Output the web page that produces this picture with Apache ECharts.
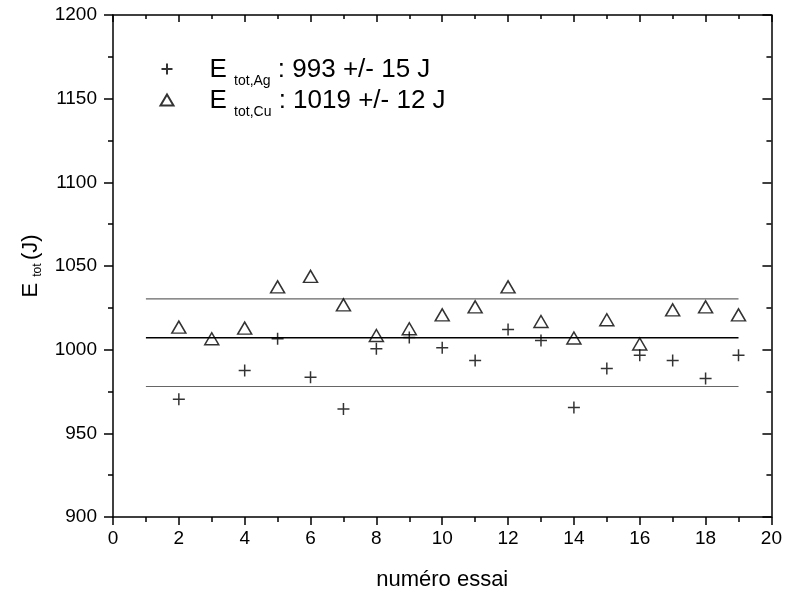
<!DOCTYPE html>
<html>
<head>
<meta charset="utf-8">
<script src="https://cdn.jsdelivr.net/npm/echarts@6/dist/echarts.min.js"></script>
<style>html,body{margin:0;padding:0;background:#fff;}#c{width:785px;height:596px;}</style>
</head>
<body>
<div id="c"></div>
<script>
// ---- data ----
const trialsAg = [2,4,5,6,7,8,9,10,11,12,13,14,15,16,17,18,19];
const energyAg = [970.4,987.5,1006.5,983.5,964.5,1000.6,1007.3,1001.2,993.6,1012.1,1005.5,965.5,988.7,996.6,993.6,982.7,996.6];
const trialsCu = [2,3,4,5,6,7,8,9,10,11,12,13,14,15,16,17,18,19];
const energyCu = [1013.5,1006.5,1012.9,1037.5,1043.8,1026.8,1008.5,1012.5,1020.8,1025.6,1037.5,1016.8,1007,1017.9,1003.4,1023.8,1025.6,1020.8];
const refLineX = [1, 19];
const refUpper = 1030.4;
const refMean = 1007.1;
const refLower = 978.0;
const xTicks = {min: 0, max: 20, interval: 2};
const yTicks = {min: 900, max: 1200, interval: 50};
const legendAg = ['E ', 'tot,Ag', ' : 993 +/- 15 J'];
const legendCu = ['E ', 'tot,Cu', ' : 1019 +/- 12 J'];
const xTitle = 'numéro essai';
const yTitle = ['E ', 'tot ', '(J)'];

// ---- chart ----
const FF = 'Liberation Sans, Arial, sans-serif';
const pair = (xs, ys) => xs.map((x, i) => [x, ys[i]]);
const hline = v => refLineX.map(x => [x, v]);
const crossPath = 'path://M0,6L12,6M6,0L6,12';

const legendRich = {
  g: {width: 31},
  e: {fontSize: 26, fontFamily: FF, color: '#000', lineHeight: 38, verticalAlign: 'middle', padding: [2, 0, 0, 0]},
  s: {fontSize: 14, fontFamily: FF, color: '#000', lineHeight: 14, verticalAlign: 'bottom', padding: [26, 0, 0, 0]}
};

const chart = echarts.init(document.getElementById('c'), null, {renderer: 'canvas'});
const axisBase = {
  type: 'value',
  axisLine: {show: true, onZero: false, lineStyle: {color: '#000', width: 1.5}},
  splitLine: {show: false}
};
chart.setOption({
  animation: false,
  backgroundColor: '#fff',
  grid: {left: 113, right: 12, top: 15, bottom: 77},
  legend: {
    orient: 'vertical', left: 158, top: 48, padding: 0, itemGap: -9,
    itemWidth: 13, itemHeight: 11,
    data: ['Ag', 'Cu'],
    formatter: n => {
      const t = n === 'Ag' ? legendAg : legendCu;
      return '{g|}{e|' + t[0] + '}{s|' + t[1] + '}{e|' + t[2] + '}';
    },
    textStyle: {rich: legendRich}
  },
  xAxis: [
    Object.assign({}, axisBase, {
      position: 'bottom', min: xTicks.min, max: xTicks.max, interval: xTicks.interval,
      axisTick: {show: true, inside: false, length: 8, lineStyle: {color: '#000', width: 1.5}},
      minorTick: {show: true, splitNumber: 2, length: 5, lineStyle: {color: '#000', width: 1.5}},
      axisLabel: {fontSize: 19, fontFamily: FF, color: '#000', margin: 12, formatter: v => String(v)},
      name: xTitle, nameLocation: 'middle', nameGap: 52,
      nameTextStyle: {fontSize: 22, fontFamily: FF, color: '#000'}
    }),
    Object.assign({}, axisBase, {
      position: 'top', min: xTicks.min, max: xTicks.max, interval: xTicks.interval,
      axisTick: {show: true, inside: true, length: 7, lineStyle: {color: '#000', width: 1.5}},
      minorTick: {show: true, splitNumber: 2, length: 4, lineStyle: {color: '#000', width: 1.5}},
      axisLabel: {show: false}
    })
  ],
  yAxis: [
    Object.assign({}, axisBase, {
      position: 'left', min: yTicks.min, max: yTicks.max, interval: yTicks.interval,
      axisTick: {show: true, inside: false, length: 9, lineStyle: {color: '#000', width: 1.5}},
      minorTick: {show: true, splitNumber: 2, length: 5, lineStyle: {color: '#000', width: 1.5}},
      axisLabel: {fontSize: 19, fontFamily: FF, color: '#000', margin: 16, formatter: v => String(v)},
      name: '{e|' + yTitle[0] + '}{s|' + yTitle[1] + '}{e|' + yTitle[2] + '}',
      nameLocation: 'middle', nameGap: 66, nameRotate: 90,
      nameTextStyle: {rich: {
        e: {fontSize: 22, fontFamily: FF, color: '#000', lineHeight: 26, verticalAlign: 'middle'},
        s: {fontSize: 12, fontFamily: FF, color: '#000', lineHeight: 12, verticalAlign: 'bottom', padding: [18, 0, 0, 0]}
      }}
    }),
    Object.assign({}, axisBase, {
      position: 'right', min: yTicks.min, max: yTicks.max, interval: yTicks.interval,
      axisTick: {show: true, inside: true, length: 9, lineStyle: {color: '#000', width: 1.5}},
      minorTick: {show: true, splitNumber: 2, length: 5, lineStyle: {color: '#000', width: 1.5}},
      axisLabel: {show: false}
    })
  ],
  series: [
    {type: 'line', data: hline(refUpper), symbol: 'none', lineStyle: {color: '#666', width: 1.2}, silent: true, z: 1},
    {type: 'line', data: hline(refMean), symbol: 'none', lineStyle: {color: '#000', width: 1.6}, silent: true, z: 1},
    {type: 'line', data: hline(refLower), symbol: 'none', lineStyle: {color: '#666', width: 1.2}, silent: true, z: 1},
    {
      name: 'Ag', type: 'scatter', data: pair(trialsAg, energyAg),
      symbol: crossPath, symbolSize: 12,
      itemStyle: {color: 'none', borderColor: '#000', borderWidth: 1.5}, z: 3
    },
    {
      name: 'Cu', type: 'scatter', data: pair(trialsCu, energyCu),
      symbol: 'triangle', symbolSize: [14, 12],
      itemStyle: {color: 'none', borderColor: '#000', borderWidth: 1.5}, z: 3
    }
  ]
});
</script>
</body>
</html>
